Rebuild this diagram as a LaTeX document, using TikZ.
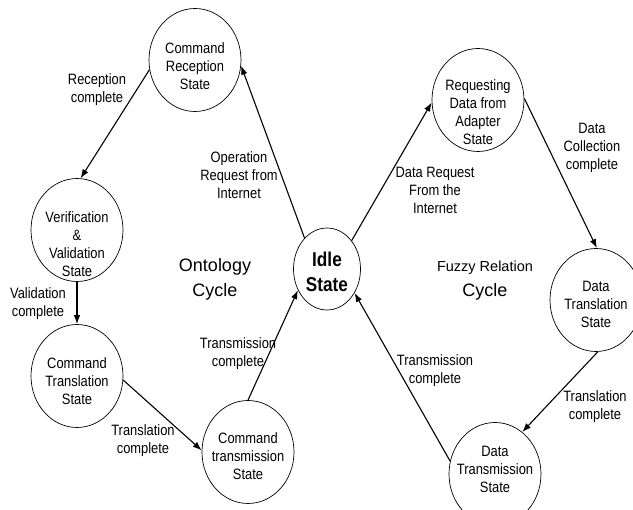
\documentclass[tikz,border=0pt]{standalone}
\usepackage{fontspec}
\setmainfont{Liberation Sans}[FakeStretch=0.86]
\newfontfamily\cycleFont{Liberation Sans}
\usetikzlibrary{shapes.geometric, arrows.meta}
\tikzstyle{diagram} = [x = 1pt, y = -1pt]
\tikzstyle{stateStyle} = [draw, ellipse, line width = .7pt, minimum width = 92pt, minimum height = 103pt, inner sep = 0pt]
\tikzstyle{stateText} = [align = center, inner sep = 0pt, font = \fontsize{15}{18}\selectfont]
\tikzstyle{idleStyle} = [stateStyle, minimum width = 67pt, minimum height = 82pt]
\tikzstyle{transitionStyle} = [-{Latex[length = 9pt, width = 6.5pt]}, line width = 1.1pt]
\tikzstyle{labelStyle} = [align = center, inner sep = 1pt, font = \fontsize{15}{18}\selectfont]
\tikzstyle{cycleStyle} = [align = center, font = \cycleFont\fontsize{18}{25}\selectfont]
\newcommand{\stateNode}[5]{
  \node [stateStyle] (#1) at (#2, #3) {};
  \node [stateText] (#1Text) at (#2, #3 + #4) {#5};
}
\newcommand{\transition}[2]{\draw [transitionStyle] (#1) -- (#2);}

\begin{document}
\begin{tikzpicture}[diagram]
  \useasboundingbox (0, 0) rectangle (633, 510);

  % states
  \node [idleStyle] (idle) at (327, 269) {};
  \node [stateText, font = \fontsize{20}{25}\selectfont\bfseries] (idleText) at (327, 272) {Idle\\State};
  \stateNode{reception}{195}{60}{6}{Command\\Reception\\State}
  \stateNode{verification}{77}{230}{14}{Verification\\\&\\Validation\\State}
  \stateNode{cmdTranslation}{77}{376}{5}{Command\\Translation\\State}
  \stateNode{cmdTransmission}{248}{452}{4}{Command\\transmission\\State}
  \stateNode{requesting}{478}{100}{12}{Requesting\\Data from\\Adapter\\State}
  \stateNode{dataTranslation}{596}{300}{4}{Data\\Translation\\State}
  \stateNode{dataTransmission}{495}{474}{-5}{Data\\Transmission\\State}

  % ontology cycle
  \transition{idle.126}{reception.353}
  \transition{reception.192}{verification.86}
  \transition{verification.270}{cmdTranslation.90}
  \transition{cmdTranslation.355}{cmdTransmission.178}
  \transition{cmdTransmission.90}{idle.216}

  % fuzzy relation cycle
  \transition{idle.49}{requesting.183}
  \transition{requesting.2}{dataTranslation.89}
  \transition{dataTranslation.272}{dataTransmission.57}
  \transition{dataTransmission.164}{idle.319}

  % labels
  \node [labelStyle] (receptionLabel) at (97, 90) {Reception\\complete};
  \node [labelStyle] (operationLabel) at (239, 175) {Operation\\Request from\\Internet};
  \node [labelStyle] (validationLabel) at (38, 304) {Validation\\complete};
  \node [labelStyle] (translationLabel) at (143, 441) {Translation\\complete};
  \node [labelStyle] (transmissionLabel) at (238, 354) {Transmission\\complete};
  \node [labelStyle] (dataRequestLabel) at (435, 190) {Data Request\\From the\\Internet};
  \node [labelStyle] (collectionLabel) at (592, 148) {Data\\Collection\\complete};
  \node [labelStyle] (dataTranslationLabel) at (595, 407) {Translation\\complete};
  \node [labelStyle] (dataTransmissionLabel) at (435, 371) {Transmission\\complete};

  \node [cycleStyle] (ontologyCycle) at (215, 279) {Ontology\\Cycle};
  \node [cycleStyle] (fuzzyCycle) at (485, 281) {{\fontsize{14.5}{25}\selectfont Fuzzy Relation}\\Cycle};
\end{tikzpicture}
\end{document}
